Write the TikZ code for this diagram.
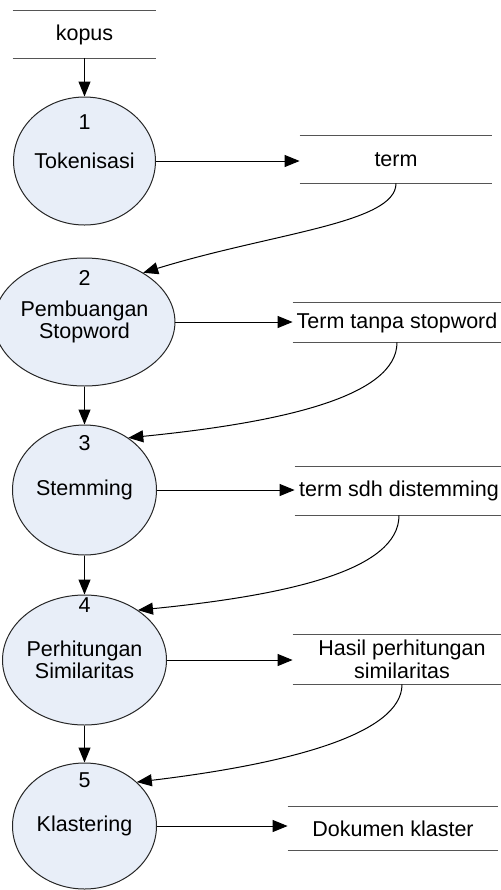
\documentclass[tikz,border=0pt]{standalone}
\usepackage{fontspec}
\setmainfont{Liberation Sans}
\usetikzlibrary{shapes.geometric,arrows.meta}
\definecolor{isiproses}{RGB}{232,238,248}
\definecolor{garis}{RGB}{85,85,85}
\begin{document}
\begin{tikzpicture}[x=0.5pt,y=-0.5pt,
    proses/.style={ellipse, draw=black!85, fill=isiproses, line width=0.5pt, inner sep=0pt,
        minimum width=72pt, minimum height=65pt, align=center, font=\fontsize{10.75}{11}\selectfont},
    nomor/.style={inner sep=0pt, font=\fontsize{10.75}{11}\selectfont},
    simpan/.style={inner sep=0pt, align=center, font=\fontsize{10.75}{11.5}\selectfont},
    alir/.style={-{Triangle[length=7.5pt,width=6pt]}, line width=0.5pt}]
    \useasboundingbox (0,0) rectangle (500,890);

    % proses (lingkaran)
    \node[proses, minimum width=69pt, minimum height=64pt] (p1) at (84.5,161) {Tokenisasi};
    \node[proses, minimum width=69pt, minimum height=64pt] (p2) at (84.5,322) {Pembuangan\\Stopword};
    \node[proses] (p3) at (84.5,490) {Stemming};
    \node[proses] (p4) at (84.5,660) {Perhitungan\\Similaritas};
    \node[proses, minimum height=63pt] (p5) at (84.5,826) {Klastering};

    % nomor proses
    \node[nomor] (n1) at (84.5,122) {1};
    \node[nomor] (n2) at (84.5,278) {2};
    \node[nomor] (n3) at (84.5,443) {3};
    \node[nomor] (n4) at (84.5,605) {4};
    \node[nomor] (n5) at (84.5,780) {5};

    % data store
    \node[simpan, minimum width=71.5pt, minimum height=23.5pt] (kopus) at (84.5,34.5) {kopus};
    \node[simpan, minimum width=96pt, minimum height=23.5pt] (term) at (396,159.5) {term};
    \node[simpan, minimum width=104pt, minimum height=19.5pt] (tstop) at (397,322.5) {Term tanpa stopword};
    \node[simpan, minimum width=104pt, minimum height=24pt] (tstem) at (399,491) {term sdh distemming};
    \node[simpan, minimum width=109pt, minimum height=24.5pt] (hasil) at (402,659.5) {Hasil perhitungan\\similaritas};
    \node[simpan, minimum width=105pt, minimum height=21.5pt] (dok) at (393,828.5) {Dokumen klaster};

    % garis atas dan bawah data store
    \foreach \s in {kopus,term,tstop,tstem,hasil,dok} {
        \draw[garis, line width=0.5pt] (\s.north west) -- (\s.north east)
            (\s.south west) -- (\s.south east);
    }

    % alur lurus
    \draw[alir] (kopus.south) -- (p1.north);
    \draw[alir] (p1.east) -- (p1.east -| term.west);
    \draw[alir] (p2.east) -- (p2.east -| tstop.west);
    \draw[alir] (p3.east) -- (p3.east -| tstem.west);
    \draw[alir] (p4.east) -- (p4.east -| hasil.west);
    \draw[alir] (p5.east) -- (p5.east -| dok.west);
    \draw[alir] (p2.south) -- (p3.north);
    \draw[alir] (p3.south) -- (p4.north);
    \draw[alir] (p4.south) -- (p5.north);

    % alur balik dari data store
    \draw[alir] (term.south) .. controls +(0,40) and +(130,-40) .. (p2.40);
    \draw[alir] (tstop.south) .. controls +(0,55) and +(150,-15) .. (p3.50);
    \draw[alir] (tstem.south) .. controls +(0,55) and +(150,-15) .. (p4.43);
    \draw[alir] (hasil.south) .. controls +(0,50) and +(150,-18) .. (p5.40);
\end{tikzpicture}
\end{document}
